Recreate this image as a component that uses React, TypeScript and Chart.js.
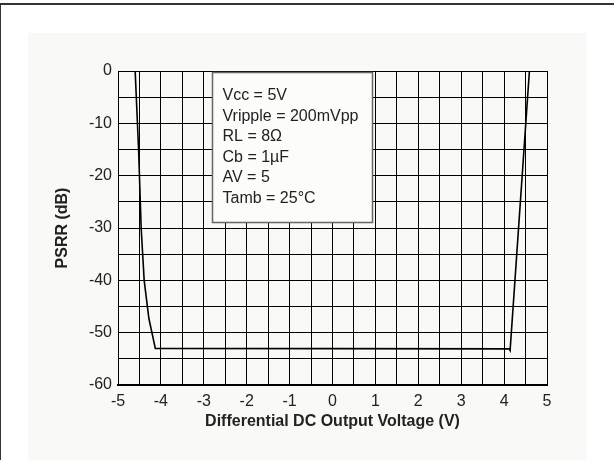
import React, { useEffect, useRef } from 'react';
import { Chart, registerables } from 'chart.js';

Chart.register(...registerables);

// PSRR vs differential DC output voltage
const voltage = [-4.6, -4.52, -4.46, -4.39, -4.28, -4.13, 4.12, 4.14, 4.59];
const psrr = [0, -15, -30, -40, -47.3, -53, -53.1, -53.4, 0];

const xMin = -5;
const xMax = 5;
const yMin = -60;
const yMax = 0;

const conditions = [
  'Vcc = 5V',
  'Vripple = 200mVpp',
  'RL = 8\u03A9',
  'Cb = 1\u00B5F',
  'AV = 5',
  'Tamb = 25\u00B0C',
];

const FONT = '"Liberation Sans", Arial, Helvetica, sans-serif';
const TEXT = '#222';

const boxPlugin = {
  id: 'conditionsBox',
  afterDraw(chart: any) {
    const { ctx, chartArea } = chart;
    const left = chartArea.left + 94.5;
    const top = chartArea.top + 1.5;
    const w = 160;
    const h = 150;
    ctx.save();
    ctx.fillStyle = '#fcfcfb';
    ctx.fillRect(left, top, w, h);
    ctx.strokeStyle = '#666';
    ctx.lineWidth = 1.5;
    ctx.strokeRect(left, top, w, h);
    ctx.fillStyle = TEXT;
    ctx.font = `16px ${FONT}`;
    ctx.textBaseline = 'middle';
    ctx.textAlign = 'left';
    conditions.forEach((t, i) => {
      ctx.fillText(t, left + 10, top + 23 + i * 20.6);
    });
    ctx.restore();
  },
};

export default function App() {
  const ref = useRef<HTMLCanvasElement>(null);

  useEffect(() => {
    if (!ref.current) return;
    const points = voltage.map((v, i) => ({ x: v, y: psrr[i] }));
    const chart = new Chart(ref.current, {
      type: 'line',
      data: {
        datasets: [
          {
            data: points,
            borderColor: '#000',
            borderWidth: 1.6,
            pointRadius: 0,
            tension: 0,
            fill: false,
          },
        ],
      },
      options: {
        animation: false,
        responsive: false,
        devicePixelRatio: 1,
        layout: { padding: { left: 0, right: 40, top: 38, bottom: 0 } },
        plugins: {
          legend: { display: false },
          tooltip: { enabled: false },
        },
        scales: {
          x: {
            type: 'linear',
            min: xMin,
            max: xMax,
            afterFit(scale: any) {
              scale.height = 75;
            },
            ticks: {
              stepSize: 0.5,
              autoSkip: false,
              maxRotation: 0,
              padding: 7,
              color: TEXT,
              font: { family: FONT, size: 16 },
              callback: (v: any) => (Number.isInteger(v) ? String(v) : ''),
            },
            grid: { color: '#000', lineWidth: 1, drawTicks: false },
            border: { display: true, color: '#000', width: 2 },
            title: {
              display: true,
              text: 'Differential DC Output Voltage (V)',
              color: TEXT,
              font: { family: FONT, size: 16, weight: 'bold' },
              padding: { top: 0, bottom: 29 },
            },
          },
          y: {
            type: 'linear',
            min: yMin,
            max: yMax,
            afterFit(scale: any) {
              scale.width = 90;
            },
            ticks: {
              stepSize: 5,
              autoSkip: false,
              padding: 6,
              color: TEXT,
              font: { family: FONT, size: 16 },
              callback: (v: any) => (v % 10 === 0 ? String(v) : ''),
            },
            grid: { color: '#000', lineWidth: 1, drawTicks: false },
            border: { display: true, color: '#000', width: 1 },
            title: {
              display: true,
              text: 'PSRR (dB)',
              color: TEXT,
              font: { family: FONT, size: 16, weight: 'bold' },
              padding: { top: 25, bottom: 0 },
            },
          },
        },
      },
      plugins: [boxPlugin],
    });
    return () => chart.destroy();
  }, []);

  return (
    <div
      style={{
        position: 'fixed',
        left: 0,
        top: 0,
        width: 614,
        height: 460,
        background: '#fff',
        overflow: 'hidden',
      }}
    >
      <div
        style={{
          position: 'absolute',
          left: 0,
          top: 3,
          width: 700,
          height: 700,
          borderTop: '2px solid #333',
          borderLeft: '1px solid #333',
        }}
      />
      <div
        style={{
          position: 'absolute',
          left: 28,
          top: 33,
          width: 559,
          height: 427,
          background: '#f9f9f7',
        }}
      >
        <canvas ref={ref} width={559} height={427} style={{ display: 'block' }} />
      </div>
    </div>
  );
}
